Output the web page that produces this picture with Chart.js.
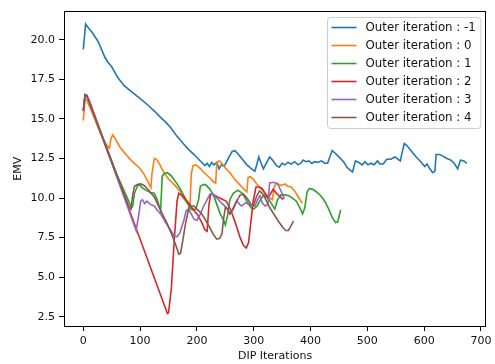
<!DOCTYPE html>
<html>
<head>
<meta charset="utf-8">
<script src="https://cdn.jsdelivr.net/npm/chart.js@4"></script>
<style>
    body { margin: 0; background: #fff; }
    #wrap { width: 495px; height: 364px; }
</style>
</head>
<body>
<div id="wrap"><canvas id="chart" width="495" height="364"></canvas></div>
<script>
// Series data (x = DIP iteration, y = EMV)
const seriesLabels = ['Outer iteration : -1', 'Outer iteration : 0', 'Outer iteration : 1',
    'Outer iteration : 2', 'Outer iteration : 3', 'Outer iteration : 4'];

const iterM1X = [0, 4, 8, 15, 26, 38, 43, 50, 61, 72, 84, 98, 113, 125, 136, 145, 154, 165, 177, 186,
    195, 203, 210, 214, 218, 222, 226, 230, 235, 239, 243, 248, 255, 262, 267, 272, 280, 288, 296, 302,
    306, 309, 313, 317, 322, 328, 333, 340, 345, 350, 355, 360, 366, 372, 378, 383, 387, 392, 397, 402,
    408, 413, 419, 425, 430, 435, 438, 443, 450, 458, 464, 470, 474, 479, 485, 491, 496, 501, 506, 512,
    518, 522, 528, 534, 541, 549, 554, 558, 562, 565, 570, 578, 586, 594, 601, 605, 610, 615, 619, 621,
    627, 633, 640, 647, 653, 659, 664, 670, 675];
const iterM1Y = [19.4, 21.0, 20.8, 20.5, 19.9, 18.9, 18.6, 18.3, 17.6, 17.1, 16.75, 16.35, 15.9, 15.5, 15.1, 14.8, 14.45, 13.9, 13.4, 13.05,
    12.75, 12.45, 12.2, 12.05, 12.2, 12.0, 12.25, 12.1, 12.25, 11.85, 12.1, 12.0, 12.5, 12.95, 13.0, 12.8, 12.45, 12.1, 11.85, 11.7,
    12.2, 12.6, 12.2, 11.85, 12.2, 12.6, 12.4, 12.05, 11.95, 12.2, 12.1, 12.25, 12.15, 12.3, 12.1, 12.2, 12.4, 12.3, 12.35, 12.2,
    12.3, 12.25, 12.35, 12.2, 12.2, 12.7, 13.0, 12.85, 12.6, 12.3, 11.95, 11.75, 11.65, 12.35, 12.25, 12.1, 12.3, 12.1, 12.2, 12.1,
    12.35, 12.15, 12.15, 12.45, 12.45, 12.6, 12.45, 12.35, 13.0, 13.45, 13.3, 12.95, 12.6, 12.3, 12.0, 12.15, 11.85, 11.6, 11.7, 12.75,
    12.75, 12.65, 12.5, 12.4, 12.2, 11.85, 12.4, 12.35, 12.2];

const iter0X = [0, 3, 6, 12, 20, 30, 40, 46, 49, 52, 57, 65, 75, 85, 99, 107, 113, 119, 121, 125,
    129, 135, 142, 150, 160, 170, 177, 183, 188, 190, 193, 198, 205, 213, 222, 230, 233, 235, 239, 243,
    250, 258, 266, 274, 282, 288, 290, 294, 299, 305, 312, 320, 328, 333, 336, 340, 345, 349, 355, 360,
    366, 372, 378, 383, 386];
const iter0Y = [14.9, 16.2, 16.2, 15.7, 15.0, 14.1, 13.4, 13.15, 13.8, 14.0, 13.7, 13.2, 12.75, 12.35, 11.9, 11.5, 11.1, 10.65, 11.6, 12.5,
    12.45, 12.1, 11.6, 11.2, 10.85, 10.45, 9.95, 9.7, 9.6, 11.5, 12.05, 12.1, 11.9, 11.6, 11.3, 11.0, 10.95, 12.2, 12.35, 12.25,
    11.9, 11.6, 11.2, 10.9, 10.6, 10.4, 11.3, 11.35, 11.2, 10.9, 10.6, 10.3, 10.0, 9.9, 10.7, 10.95, 10.85, 10.8, 10.9, 10.75,
    10.7, 10.45, 10.1, 9.8, 9.7];

const iter1X = [0, 3, 6, 10, 40, 60, 75, 85, 87, 90, 95, 99, 104, 110, 118, 125, 130, 136, 139, 143,
    148, 155, 165, 172, 177, 183, 188, 192, 198, 203, 206, 211, 215, 222, 229, 235, 241, 247, 250, 254,
    258, 264, 272, 280, 288, 295, 300, 306, 312, 318, 325, 332, 337, 342, 348, 355, 362, 368, 375, 381,
    386, 390, 394, 398, 404, 410, 418, 425, 432, 438, 444, 448, 453];
const iter1Y = [15.5, 16.5, 16.45, 16.1, 13.3, 11.4, 10.2, 9.4, 9.5, 10.3, 10.75, 10.85, 10.65, 10.5, 10.35, 10.3, 9.9, 9.2, 11.4, 11.55,
    11.6, 11.4, 10.9, 10.5, 10.15, 9.7, 9.35, 9.25, 9.3, 9.9, 10.75, 10.85, 10.85, 10.6, 10.2, 9.6, 9.0, 8.6, 8.3, 8.9,
    9.9, 10.3, 10.5, 10.3, 9.8, 9.4, 9.3, 9.5, 9.9, 10.2, 10.0, 9.6, 9.3, 9.9, 10.2, 10.2, 10.15, 10.0, 9.8, 9.4,
    9.0, 9.4, 10.4, 10.6, 10.55, 10.4, 10.15, 9.8, 9.3, 8.8, 8.45, 8.5, 9.25];

const iter2X = [0, 3, 6, 10, 148, 150, 155, 160, 165, 168, 172, 178, 183, 190, 200, 208, 214, 218, 221, 224,
    230, 240, 252, 260, 268, 276, 282, 287, 291, 295, 299, 304, 310, 315, 320, 325, 330, 334, 340, 346,
    352];
const iter2Y = [15.5, 16.5, 16.5, 16.2, 2.7, 2.75, 4.3, 7.3, 9.8, 10.3, 10.2, 10.0, 9.8, 9.45, 9.0, 8.5, 8.0, 7.9, 9.5, 10.25,
    10.2, 10.0, 9.8, 9.2, 8.4, 7.5, 7.0, 6.85, 7.2, 8.5, 9.8, 10.7, 10.7, 10.6, 10.3, 10.0, 10.3, 10.55, 10.3, 10.1,
    9.9];

const iter3X = [0, 3, 10, 93, 97, 101, 104, 108, 112, 118, 125, 131, 136, 145, 154, 160, 165, 170, 177, 181,
    185, 190, 195, 200, 206, 212, 218, 223, 228, 235, 243, 252, 258, 264, 270, 275, 279, 285, 292, 302,
    307, 311, 315, 320, 325, 328, 335, 342, 348, 354];
const iter3Y = [15.5, 16.5, 16.2, 7.95, 8.8, 9.8, 9.9, 9.65, 9.8, 9.6, 9.5, 9.2, 9.0, 8.45, 7.95, 7.6, 7.55, 7.8, 8.6, 9.2,
    9.3, 9.0, 8.65, 8.6, 9.0, 9.5, 9.9, 10.25, 10.25, 10.0, 9.7, 9.4, 9.0, 9.4, 9.85, 9.6, 9.5, 9.7, 9.6, 9.5,
    9.9, 10.15, 9.7, 9.5, 9.6, 10.95, 11.0, 10.9, 10.45, 9.95];

const iter4X = [0, 3, 6, 40, 81, 84, 87, 90, 95, 101, 107, 115, 125, 135, 148, 158, 165, 168, 171, 175,
    180, 186, 190, 195, 200, 206, 212, 220, 229, 235, 240, 244, 247, 250, 254, 258, 264, 270, 276, 282,
    286, 290, 295, 299, 305, 310, 315, 320, 328, 337, 344, 351, 356, 361, 365, 370];
const iter4Y = [15.6, 16.55, 16.5, 13.2, 9.4, 9.3, 10.2, 10.75, 10.85, 10.9, 10.8, 10.5, 10.05, 9.3, 8.35, 7.5, 6.8, 6.45, 6.5, 7.3,
    8.4, 9.4, 9.5, 9.5, 9.3, 9.1, 8.8, 8.3, 7.7, 7.4, 7.45, 7.75, 8.7, 9.4, 9.3, 9.0, 9.3, 9.8, 10.2, 10.25,
    10.1, 9.9, 9.6, 9.5, 10.1, 10.45, 10.3, 10.0, 9.4, 8.9, 8.5, 8.15, 7.95, 7.95, 8.2, 8.55];

const seriesX = [iterM1X, iter0X, iter1X, iter2X, iter3X, iter4X];
const seriesY = [iterM1Y, iter0Y, iter1Y, iter2Y, iter3Y, iter4Y];
const seriesColors = ['#1f77b4', '#ff7f0e', '#2ca02c', '#d62728', '#9467bd', '#8c564b'];

// Tick labels
const xTicks = [0, 100, 200, 300, 400, 500, 600, 700];
const yTicks = [2.5, 5.0, 7.5, 10.0, 12.5, 15.0, 17.5, 20.0];

const textColor = '#111';
const baseFont = { family: 'DejaVu Sans', size: 11 };
const legendFontSize = 11.8;

// Full box frame + matplotlib-style legend inside the axes
const frameAndLegend = {
    id: 'frameAndLegend',
    afterDraw(chart) {
        const { ctx, chartArea: a } = chart;
        ctx.save();
        ctx.strokeStyle = '#000';
        ctx.lineWidth = 1;
        ctx.strokeRect(Math.round(a.left) + 0.5, Math.round(a.top) + 0.5,
            Math.round(a.right - a.left) - 1, Math.round(a.bottom - a.top) - 1);

        ctx.font = legendFontSize + 'px "' + baseFont.family + '"';
        const sets = chart.data.datasets;
        const maxW = Math.max(...sets.map(d => ctx.measureText(d.label).width));
        const pad = 4, handle = 25, gap = 9, rowH = 18;
        const w = pad + handle + gap + maxW + pad + 1;
        const h = 10 + rowH * (sets.length - 1) + 11;
        const x0 = Math.round(a.right - 6 - w) + 0.5;
        const y0 = Math.round(a.top + 6) + 0.5;

        ctx.beginPath();
        ctx.roundRect(x0, y0, w, h, 3);
        ctx.fillStyle = 'rgba(255,255,255,0.8)';
        ctx.fill();
        ctx.strokeStyle = '#cccccc';
        ctx.stroke();

        ctx.textBaseline = 'middle';
        ctx.textAlign = 'left';
        sets.forEach((d, i) => {
            const cy = y0 + 10 + i * rowH;
            ctx.beginPath();
            ctx.moveTo(x0 + pad, cy);
            ctx.lineTo(x0 + pad + handle, cy);
            ctx.strokeStyle = d.borderColor;
            ctx.lineWidth = 1.6;
            ctx.stroke();
            ctx.fillStyle = textColor;
            ctx.fillText(d.label, x0 + pad + handle + gap, cy + 0.5);
        });
        ctx.restore();
    }
};

const datasets = seriesLabels.map((label, i) => ({
    label: label,
    data: seriesX[i].map((x, j) => ({ x: x, y: seriesY[i][j] })),
    borderColor: seriesColors[i],
    backgroundColor: seriesColors[i],
    borderWidth: 1.6,
    pointRadius: 0,
    tension: 0,
    fill: false,
    order: seriesLabels.length - i
}));

new Chart(document.getElementById('chart'), {
    type: 'line',
    data: { datasets: datasets },
    options: {
        responsive: false,
        animation: false,
        devicePixelRatio: 1,
        layout: { padding: { left: 0, right: 3, top: 9, bottom: 0 } },
        plugins: {
            legend: { display: false },
            tooltip: { enabled: false }
        },
        scales: {
            x: {
                type: 'linear',
                min: -34,
                max: 709,
                afterBuildTicks: s => { s.ticks = xTicks.map(v => ({ value: v })); },
                afterFit: s => { s.height = 37; },
                ticks: {
                    color: textColor, font: baseFont, padding: 3.5,
                    maxRotation: 0, autoSkip: false,
                    callback: v => String(v)
                },
                grid: { drawOnChartArea: false, drawTicks: true, tickLength: 4, tickColor: '#000', tickWidth: 1 },
                border: { display: false },
                title: {
                    display: true, text: 'DIP Iterations', color: textColor, font: baseFont,
                    padding: { top: 0, bottom: 1 }
                }
            },
            y: {
                type: 'linear',
                min: 1.85,
                max: 21.85,
                afterBuildTicks: s => { s.ticks = yTicks.map(v => ({ value: v })); },
                afterFit: s => { s.width = 64; },
                ticks: {
                    color: textColor, font: baseFont, padding: 4,
                    autoSkip: false,
                    callback: v => v.toFixed(1)
                },
                grid: { drawOnChartArea: false, drawTicks: true, tickLength: 5, tickColor: '#000', tickWidth: 1 },
                border: { display: false },
                title: {
                    display: true, text: 'EMV', color: textColor, font: baseFont,
                    padding: { top: 11.5, bottom: 0 }
                }
            }
        }
    },
    plugins: [frameAndLegend]
});
</script>
</body>
</html>
